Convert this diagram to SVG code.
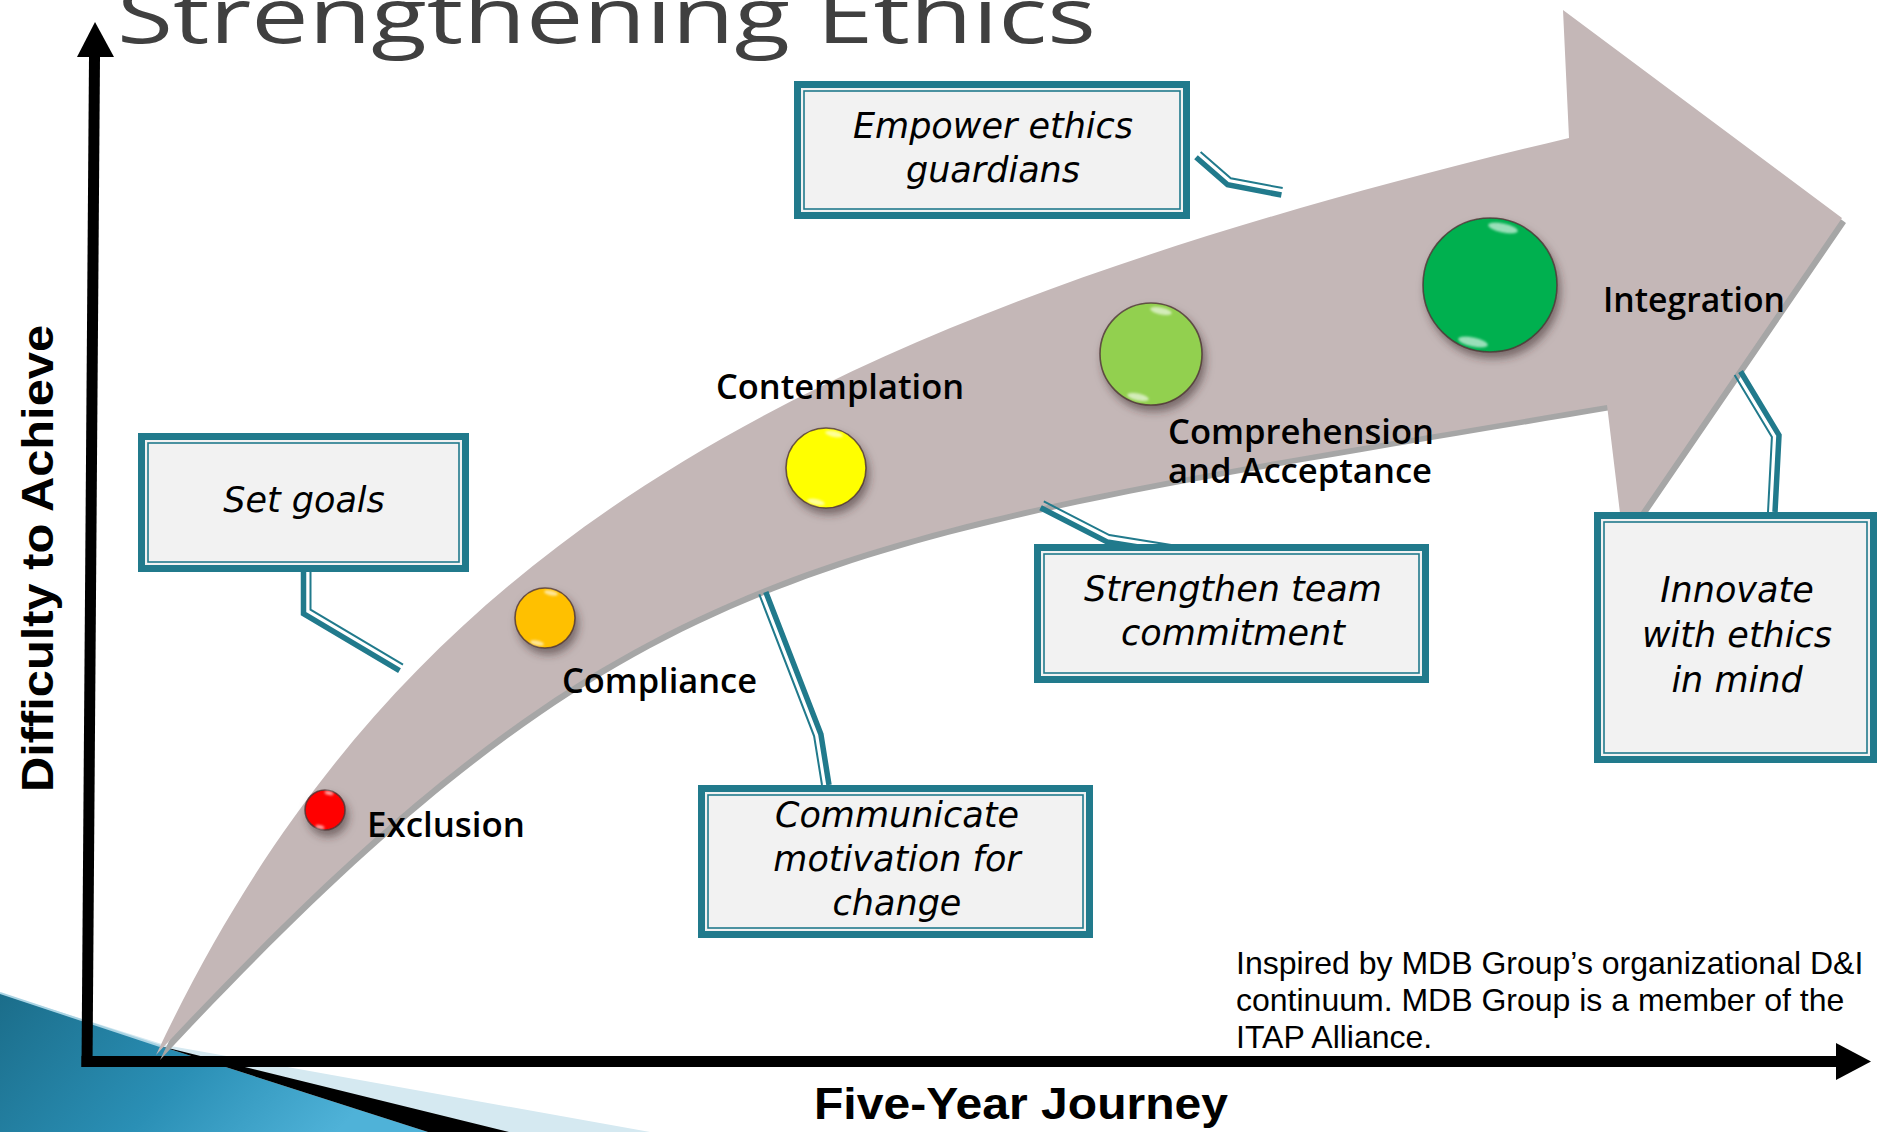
<svg xmlns="http://www.w3.org/2000/svg" width="1878" height="1132" viewBox="0 0 1878 1132">
  <defs>
    <style>
      .box-outer{fill:#217a8c}
      .box-fill{fill:#f2f2f2}
      .box-rule{fill:none;stroke:#217a8c;stroke-width:1.6}
      .box-text{font-family:"DejaVu Sans","Liberation Sans",sans-serif;font-style:italic;font-size:35px;fill:#000;text-anchor:middle}
      .stage-label{font-family:"Open Sans","DejaVu Sans",sans-serif;font-weight:600;font-size:35px;fill:#000}
      .lead-thick{fill:none;stroke:#217a8c;stroke-width:5.5;stroke-linejoin:miter}
      .lead-thin{fill:none;stroke:#217a8c;stroke-width:2;stroke-linejoin:miter}
      .axis-label{font-family:"Liberation Sans",Arial,sans-serif;font-weight:bold;font-size:44px;fill:#000}
      .note{font-family:"Liberation Sans",Arial,sans-serif;font-size:32px;fill:#000}
      .dot-edge{stroke:#4e3434;stroke-opacity:0.8;stroke-width:1.6}
      .gloss{fill:#ffffff;fill-opacity:0.6}
    </style>
    <linearGradient id="cornerBlue" x1="0" y1="0" x2="1" y2="0.3">
      <stop offset="0" stop-color="#1b6d8a"/>
      <stop offset="0.55" stop-color="#2a8fb5"/>
      <stop offset="1" stop-color="#4fb2d8"/>
    </linearGradient>
    <filter id="dotShadow" x="-50%" y="-50%" width="200%" height="200%">
      <feGaussianBlur in="SourceAlpha" stdDeviation="4"/>
      <feOffset dx="3" dy="6" result="off"/>
      <feFlood flood-color="#3b2a2a" flood-opacity="0.55"/>
      <feComposite in2="off" operator="in"/>
      <feMerge><feMergeNode/><feMergeNode in="SourceGraphic"/></feMerge>
    </filter>
    <filter id="soft" x="-50%" y="-50%" width="200%" height="200%">
      <feGaussianBlur stdDeviation="1.2"/>
    </filter>
  </defs>

  <rect width="1878" height="1132" fill="#ffffff"/>

  <!-- corner decoration, bottom left -->
  <g id="corner-deco">
    <polygon points="0,993 165,1045 650,1132 0,1132" fill="#d5e9f1"/>
    <polygon points="0,993 160,1046 428,1132 0,1132" fill="url(#cornerBlue)"/>
    <polygon points="160,1046 509,1132 428,1132" fill="#000"/>
    <line x1="0" y1="993" x2="160" y2="1046" stroke="#a9d3e3" stroke-width="2"/>
  </g>

  <!-- title, partly above the top edge -->
  <text id="title" x="117" y="43" font-family="'Open Sans','DejaVu Sans',sans-serif" font-size="76" fill="#404040" textLength="979" lengthAdjust="spacingAndGlyphs">Strengthening Ethics</text>

  <!-- axes -->
  <g id="axes">
    <polygon points="81.5,1067 92.5,1067 100,57 89,57" fill="#000"/>
    <polygon points="95,22 114,57 77,57" fill="#000"/>
    <rect x="81.5" y="1056" width="1757" height="11" fill="#000"/>
    <polygon points="1836,1043 1871,1061.5 1836,1080" fill="#000"/>
    <text class="axis-label" transform="translate(53,558.5) rotate(-90)" text-anchor="middle" textLength="467" lengthAdjust="spacingAndGlyphs">Difficulty to Achieve</text>
    <text class="axis-label" x="1021" y="1119" text-anchor="middle" textLength="414" lengthAdjust="spacingAndGlyphs">Five-Year Journey</text>
  </g>

  <!-- curved progress arrow -->
  <g id="journey-arrow">
    <path transform="translate(4,5)" fill="#a6a6a6" d="M156,1055 C394,548 791,323 1569,138 L1563,10 L1842,218 L1623,538 L1607,405 C818,539 633,543 156,1055 Z"/>
    <path fill="#c4b7b7" d="M156,1055 C394,548 791,323 1569,138 L1563,10 L1842,218 L1623,538 L1607,405 C818,539 633,543 156,1055 Z"/>
  </g>

  <!-- callout leaders -->
  <g id="connectors">
    <polyline class="lead-thick" points="303.5,572 303.5,613.7 399.5,670.6"/>
    <polyline class="lead-thin" points="310.5,572 310.5,609.7 403,664.6"/>

    <polyline class="lead-thick" points="1196,157.3 1227.6,184.8 1281.4,195"/>
    <polyline class="lead-thin" points="1200.6,152 1230.8,178.3 1282.7,188.1"/>

    <polyline class="lead-thick" points="765.8,591.9 820.9,734.2 829,785"/>
    <polyline class="lead-thin" points="759.3,594.4 814.1,736.1 822,785"/>

    <polyline class="lead-thick" points="1040.6,507.7 1107.1,541.9 1182.5,554"/>
    <polyline class="lead-thin" points="1043.8,501.4 1109.3,535.1 1183.6,547.1"/>

    <polyline class="lead-thick" points="1740.6,371.5 1779,435.2 1775,512"/>
    <polyline class="lead-thin" points="1734.6,375.1 1771.9,437 1768,512"/>
  </g>

  <!-- stages along the arrow -->
  <g id="stage-exclusion">
    <circle cx="325" cy="810" r="20" fill="#ff0000" class="dot-edge" filter="url(#dotShadow)"/>
    <ellipse class="gloss" cx="329" cy="793" rx="4.5" ry="2" transform="rotate(12 329 793)" filter="url(#soft)"/>
    <ellipse class="gloss" cx="320" cy="827" rx="4.5" ry="2" transform="rotate(12 320 827)" filter="url(#soft)"/>
    <text class="stage-label" x="367" y="837" textLength="158" lengthAdjust="spacingAndGlyphs">Exclusion</text>
  </g>
  <g id="stage-compliance">
    <circle cx="545" cy="618" r="30" fill="#ffc000" class="dot-edge" filter="url(#dotShadow)"/>
    <ellipse class="gloss" cx="551" cy="593" rx="7" ry="2.5" transform="rotate(12 551 593)" filter="url(#soft)"/>
    <ellipse class="gloss" cx="537" cy="643" rx="7" ry="2.5" transform="rotate(12 537 643)" filter="url(#soft)"/>
    <text class="stage-label" x="562" y="693" textLength="195" lengthAdjust="spacingAndGlyphs">Compliance</text>
  </g>
  <g id="stage-contemplation">
    <circle cx="826" cy="468" r="40" fill="#ffff00" class="dot-edge" filter="url(#dotShadow)"/>
    <ellipse class="gloss" cx="834" cy="434" rx="9" ry="3" transform="rotate(12 834 434)" filter="url(#soft)"/>
    <ellipse class="gloss" cx="816" cy="502" rx="9" ry="3" transform="rotate(12 816 502)" filter="url(#soft)"/>
    <text class="stage-label" x="716" y="399" textLength="248" lengthAdjust="spacingAndGlyphs">Contemplation</text>
  </g>
  <g id="stage-comprehension">
    <circle cx="1151" cy="354" r="51" fill="#92d050" class="dot-edge" filter="url(#dotShadow)"/>
    <ellipse class="gloss" cx="1161" cy="311" rx="11" ry="3.5" transform="rotate(12 1161 311)" filter="url(#soft)"/>
    <ellipse class="gloss" cx="1138" cy="397" rx="11" ry="3.5" transform="rotate(12 1138 397)" filter="url(#soft)"/>
    <text class="stage-label" x="1168" y="444" textLength="266" lengthAdjust="spacingAndGlyphs">Comprehension</text>
    <text class="stage-label" x="1168" y="483" textLength="264" lengthAdjust="spacingAndGlyphs">and Acceptance</text>
  </g>
  <g id="stage-integration">
    <circle cx="1490" cy="285" r="67" fill="#00b050" class="dot-edge" filter="url(#dotShadow)"/>
    <ellipse class="gloss" cx="1503" cy="228" rx="15" ry="4.5" transform="rotate(12 1503 228)" filter="url(#soft)"/>
    <ellipse class="gloss" cx="1473" cy="342" rx="15" ry="4.5" transform="rotate(12 1473 342)" filter="url(#soft)"/>
    <text class="stage-label" x="1603" y="312" textLength="182" lengthAdjust="spacingAndGlyphs">Integration</text>
  </g>

  <!-- action callouts -->
  <g id="box-set-goals">
    <rect class="box-outer" x="138" y="433" width="331" height="139"/>
    <rect class="box-fill" x="145" y="440" width="317" height="125"/>
    <rect class="box-rule" x="148" y="443" width="311" height="119"/>
    <text class="box-text" x="304" y="512">Set goals</text>
  </g>
  <g id="box-empower">
    <rect class="box-outer" x="794" y="81" width="396" height="138"/>
    <rect class="box-fill" x="801" y="88" width="382" height="124"/>
    <rect class="box-rule" x="804" y="91" width="376" height="118"/>
    <text class="box-text" x="993" y="138">Empower ethics</text>
    <text class="box-text" x="993" y="182">guardians</text>
  </g>
  <g id="box-communicate">
    <rect class="box-outer" x="698" y="785" width="395" height="153"/>
    <rect class="box-fill" x="705" y="792" width="381" height="139"/>
    <rect class="box-rule" x="708" y="795" width="375" height="133"/>
    <text class="box-text" x="897" y="827">Communicate</text>
    <text class="box-text" x="897" y="871">motivation for</text>
    <text class="box-text" x="897" y="915">change</text>
  </g>
  <g id="box-strengthen">
    <rect class="box-outer" x="1034" y="544" width="395" height="139"/>
    <rect class="box-fill" x="1041" y="551" width="381" height="125"/>
    <rect class="box-rule" x="1044" y="554" width="375" height="119"/>
    <text class="box-text" x="1233" y="601">Strengthen team</text>
    <text class="box-text" x="1233" y="645">commitment</text>
  </g>
  <g id="box-innovate">
    <rect class="box-outer" x="1594" y="512" width="283" height="251"/>
    <rect class="box-fill" x="1601" y="519" width="269" height="237"/>
    <rect class="box-rule" x="1604" y="522" width="263" height="231"/>
    <text class="box-text" x="1737" y="602">Innovate</text>
    <text class="box-text" x="1737" y="647">with ethics</text>
    <text class="box-text" x="1737" y="692">in mind</text>
  </g>

  <!-- source note -->
  <g id="source-note">
    <text class="note" x="1236" y="974">Inspired by MDB Group’s organizational D&amp;I</text>
    <text class="note" x="1236" y="1011">continuum. MDB Group is a member of the</text>
    <text class="note" x="1236" y="1048">ITAP Alliance.</text>
  </g>
</svg>
